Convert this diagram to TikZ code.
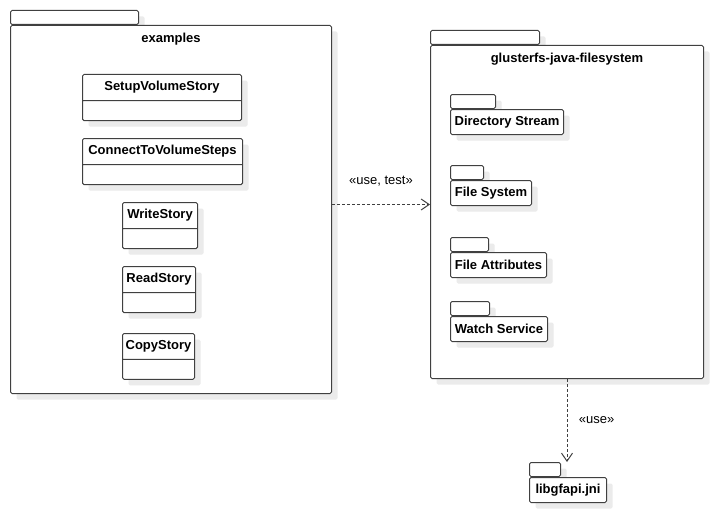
\documentclass[tikz,border=0pt]{standalone}
\usepackage{fontspec}
\setmainfont{Liberation Sans}
\usetikzlibrary{positioning,shapes.multipart,shadows,arrows.meta}
\newcommand{\umlsize}{\fontsize{13}{15}\selectfont}
\tikzset{%
  umlshadow/.style = {drop shadow={shadow xshift=6pt, shadow yshift=-6pt,%
                      fill=black!8, opacity=1}},%
  umlline/.style   = {draw=black!75, line width=1pt, fill=white,%
                      rounded corners=1.5pt},%
  pkgtab/.style    = {umlline, umlshadow, minimum height=14pt,%
                      inner sep=0pt, anchor=north west},%
  pkgbody/.style   = {umlline, umlshadow, minimum height=25pt,%
                      inner sep=0pt, font=\umlsize\bfseries},%
  pkgtitle/.style  = {font=\umlsize\bfseries},%
  umlclass/.style  = {umlline, umlshadow, rectangle split,%
                      rectangle split parts=2, inner xsep=2pt, inner ysep=6.5pt,%
                      rectangle split empty part height=6pt,%
                      rectangle split empty part depth=0pt,%
                      anchor=north west, font=\umlsize\bfseries},%
  dep/.style       = {draw=black!75, line width=1pt, dash pattern=on 3pt off 2pt,%
                      -{Straight Barb[length=8pt,width=11pt]}},%
  stereo/.style    = {font=\fontsize{13}{15}\selectfont}%
}

\begin{document}
\begin{tikzpicture}[x=1pt,y=-1pt]
	\useasboundingbox (0,0) rectangle (712,511);
	% examples
	\node[pkgtab, minimum width=128pt] (examples-tab) at (10,10) {};
	\node[pkgbody, minimum width=321pt, minimum height=368pt]
		(examples) [below right=0pt and 0pt of examples-tab.south west] {};
	\node[pkgtitle] (examples-title) [below=5pt of examples.north] {examples};
	\node[umlclass, minimum width=159pt] (setup) at (82,74) {SetupVolumeStory\nodepart{second}};
	\node[umlclass, minimum width=160pt] (connect) at (82,138) {ConnectToVolumeSteps\nodepart{second}};
	\node[umlclass, minimum width=75pt] (write) at (122,202) {WriteStory\nodepart{second}};
	\node[umlclass, minimum width=73pt] (read) at (122,266) {ReadStory\nodepart{second}};
	\node[umlclass, minimum width=72pt] (copy) at (122,333) {CopyStory\nodepart{second}};
	% glusterfs-java-filesystem
	\node[pkgtab, minimum width=109pt] (gjf-tab) at (430,30) {};
	\node[pkgbody, minimum width=273pt, minimum height=333pt]
		(gjf) [below right=0pt and 0pt of gjf-tab.south west] {};
	\node[pkgtitle] (gjf-title) [below=5pt of gjf.north] {glusterfs-java-filesystem};
	\node[pkgtab, minimum width=45pt] (dirstream-tab) at (450,94) {};
	\node[pkgbody, minimum width=113pt]
		(dirstream) [below right=0pt and 0pt of dirstream-tab.south west] {Directory Stream};
	\node[pkgtab, minimum width=33pt] (filesys-tab) at (450,165) {};
	\node[pkgbody, minimum width=81pt]
		(filesys) [below right=0pt and 0pt of filesys-tab.south west] {File System};
	\node[pkgtab, minimum width=38pt] (fileattr-tab) at (450,237) {};
	\node[pkgbody, minimum width=96pt]
		(fileattr) [below right=0pt and 0pt of fileattr-tab.south west] {File Attributes};
	\node[pkgtab, minimum width=39pt] (watch-tab) at (450,301) {};
	\node[pkgbody, minimum width=97pt]
		(watch) [below right=0pt and 0pt of watch-tab.south west] {Watch Service};
	% libgfapi.jni
	\node[pkgtab, minimum width=31pt] (libgfapi-tab) at (529,462) {};
	\node[pkgbody, minimum width=77pt]
		(libgfapi) [below right=0pt and 0pt of libgfapi-tab.south west] {libgfapi.jni};
	% dependencies
	\draw[dep] ([yshift=5pt]examples.east) -- ([yshift=5pt]examples.east -| gjf.west)
		node[stereo, midway, above=15pt] {«use, test»};
	\draw[dep] (gjf.south) -- (gjf.south |- libgfapi-tab.north)
		node[stereo, midway, right=8pt] {«use»};
\end{tikzpicture}
\end{document}
